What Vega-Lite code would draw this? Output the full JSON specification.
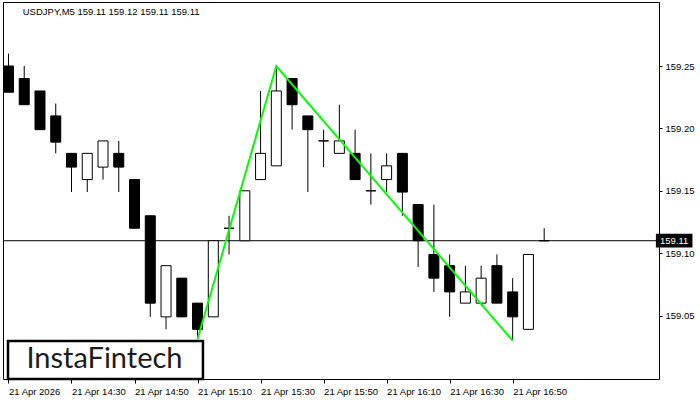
{
  "$schema": "https://vega.github.io/schema/vega-lite/v6.json",
  "width": 656,
  "height": 377,
  "autosize": {"type": "none"},
  "padding": {"left": 3, "top": 2, "right": 41, "bottom": 21},
  "background": "white",
  "config": {
    "view": {"stroke": "black", "strokeWidth": 1, "fill": "white"},
    "font": "Liberation Sans"
  },
  "datasets": {
    "candles": [
      {"t": "2026-04-21T14:10:00Z", "open": 159.250, "high": 159.260, "low": 159.229, "close": 159.229},
      {"t": "2026-04-21T14:15:00Z", "open": 159.240, "high": 159.250, "low": 159.219, "close": 159.219},
      {"t": "2026-04-21T14:20:00Z", "open": 159.230, "high": 159.230, "low": 159.199, "close": 159.199},
      {"t": "2026-04-21T14:25:00Z", "open": 159.210, "high": 159.220, "low": 159.180, "close": 159.189},
      {"t": "2026-04-21T14:30:00Z", "open": 159.180, "high": 159.180, "low": 159.149, "close": 159.169},
      {"t": "2026-04-21T14:35:00Z", "open": 159.159, "high": 159.180, "low": 159.149, "close": 159.180},
      {"t": "2026-04-21T14:40:00Z", "open": 159.169, "high": 159.190, "low": 159.159, "close": 159.190},
      {"t": "2026-04-21T14:45:00Z", "open": 159.180, "high": 159.190, "low": 159.149, "close": 159.169},
      {"t": "2026-04-21T14:50:00Z", "open": 159.159, "high": 159.159, "low": 159.120, "close": 159.120},
      {"t": "2026-04-21T14:55:00Z", "open": 159.130, "high": 159.130, "low": 159.049, "close": 159.060},
      {"t": "2026-04-21T15:00:00Z", "open": 159.049, "high": 159.090, "low": 159.039, "close": 159.090},
      {"t": "2026-04-21T15:05:00Z", "open": 159.080, "high": 159.080, "low": 159.049, "close": 159.049},
      {"t": "2026-04-21T15:10:00Z", "open": 159.060, "high": 159.060, "low": 159.032, "close": 159.039},
      {"t": "2026-04-21T15:15:00Z", "open": 159.049, "high": 159.110, "low": 159.049, "close": 159.110},
      {"t": "2026-04-21T15:20:00Z", "open": 159.120, "high": 159.130, "low": 159.099, "close": 159.120},
      {"t": "2026-04-21T15:25:00Z", "open": 159.110, "high": 159.150, "low": 159.110, "close": 159.150},
      {"t": "2026-04-21T15:30:00Z", "open": 159.159, "high": 159.230, "low": 159.159, "close": 159.180},
      {"t": "2026-04-21T15:35:00Z", "open": 159.170, "high": 159.250, "low": 159.170, "close": 159.230},
      {"t": "2026-04-21T15:40:00Z", "open": 159.240, "high": 159.240, "low": 159.199, "close": 159.219},
      {"t": "2026-04-21T15:45:00Z", "open": 159.210, "high": 159.210, "low": 159.149, "close": 159.199},
      {"t": "2026-04-21T15:50:00Z", "open": 159.190, "high": 159.199, "low": 159.169, "close": 159.190},
      {"t": "2026-04-21T15:55:00Z", "open": 159.180, "high": 159.219, "low": 159.180, "close": 159.190},
      {"t": "2026-04-21T16:00:00Z", "open": 159.180, "high": 159.199, "low": 159.159, "close": 159.159},
      {"t": "2026-04-21T16:05:00Z", "open": 159.150, "high": 159.180, "low": 159.139, "close": 159.150},
      {"t": "2026-04-21T16:10:00Z", "open": 159.159, "high": 159.180, "low": 159.149, "close": 159.170},
      {"t": "2026-04-21T16:15:00Z", "open": 159.180, "high": 159.180, "low": 159.130, "close": 159.149},
      {"t": "2026-04-21T16:20:00Z", "open": 159.139, "high": 159.139, "low": 159.089, "close": 159.110},
      {"t": "2026-04-21T16:25:00Z", "open": 159.099, "high": 159.139, "low": 159.069, "close": 159.080},
      {"t": "2026-04-21T16:30:00Z", "open": 159.090, "high": 159.099, "low": 159.049, "close": 159.069},
      {"t": "2026-04-21T16:35:00Z", "open": 159.060, "high": 159.090, "low": 159.060, "close": 159.069},
      {"t": "2026-04-21T16:40:00Z", "open": 159.060, "high": 159.090, "low": 159.060, "close": 159.080},
      {"t": "2026-04-21T16:45:00Z", "open": 159.090, "high": 159.099, "low": 159.060, "close": 159.060},
      {"t": "2026-04-21T16:50:00Z", "open": 159.069, "high": 159.080, "low": 159.030, "close": 159.049},
      {"t": "2026-04-21T16:55:00Z", "open": 159.039, "high": 159.099, "low": 159.039, "close": 159.099},
      {"t": "2026-04-21T17:00:00Z", "open": 159.110, "high": 159.120, "low": 159.110, "close": 159.110}
    ],
    "pattern": [
      {"t": "2026-04-21T15:10:00Z", "p": 159.031},
      {"t": "2026-04-21T15:35:00Z", "p": 159.250},
      {"t": "2026-04-21T16:50:00Z", "p": 159.030}
    ]
  },
  "layer": [
    {
      "data": {"values": [{}]},
      "mark": {"type": "rule", "color": "black", "strokeWidth": 1},
      "encoding": {"y": {"datum": 159.11, "type": "quantitative"}}
    },
    {
      "data": {"name": "candles"},
      "mark": {"type": "rule", "color": "black", "strokeWidth": 1, "clip": true},
      "encoding": {
        "x": {
          "field": "t",
          "type": "temporal",
          "scale": {
            "type": "utc",
            "domain": [
              {"year": 2026, "month": 4, "date": 21, "hours": 14, "minutes": 9, "seconds": 51, "utc": true},
              {"year": 2026, "month": 4, "date": 21, "hours": 17, "minutes": 34, "seconds": 51, "utc": true}
            ]
          },
          "axis": {
            "orient": "bottom",
            "title": null,
            "grid": false,
            "domain": false,
            "values": [
              {"year": 2026, "month": 4, "date": 21, "hours": 14, "minutes": 10, "utc": true},
              {"year": 2026, "month": 4, "date": 21, "hours": 14, "minutes": 30, "utc": true},
              {"year": 2026, "month": 4, "date": 21, "hours": 14, "minutes": 50, "utc": true},
              {"year": 2026, "month": 4, "date": 21, "hours": 15, "minutes": 10, "utc": true},
              {"year": 2026, "month": 4, "date": 21, "hours": 15, "minutes": 30, "utc": true},
              {"year": 2026, "month": 4, "date": 21, "hours": 15, "minutes": 50, "utc": true},
              {"year": 2026, "month": 4, "date": 21, "hours": 16, "minutes": 10, "utc": true},
              {"year": 2026, "month": 4, "date": 21, "hours": 16, "minutes": 30, "utc": true},
              {"year": 2026, "month": 4, "date": 21, "hours": 16, "minutes": 50, "utc": true}
            ],
            "labelExpr": "utchours(datum.value) == 14 && utcminutes(datum.value) == 10 ? '21 Apr 2026' : utcFormat(datum.value, '%d %b %H:%M')",
            "labelAlign": "left",
            "labelBaseline": "top",
            "labelPadding": 3,
            "labelFont": "Liberation Sans",
            "labelFontSize": 9.5,
            "labelColor": "black",
            "labelFlush": false,
            "labelOverlap": false,
            "tickSize": 4,
            "tickColor": "black",
            "tickWidth": 1
          }
        },
        "y": {
          "field": "low",
          "type": "quantitative",
          "scale": {"domain": [158.9992, 159.3013], "nice": false, "zero": false},
          "axis": {
            "orient": "right",
            "title": null,
            "grid": false,
            "domain": false,
            "values": [159.05, 159.10, 159.15, 159.20, 159.25],
            "format": ".2f",
            "labelPadding": 3,
            "labelFont": "Liberation Sans",
            "labelFontSize": 9.5,
            "labelColor": "black",
            "labelFlush": false,
            "labelOverlap": false,
            "tickSize": 3,
            "tickColor": "black",
            "tickWidth": 1
          }
        },
        "y2": {"field": "high"}
      }
    },
    {
      "data": {"name": "candles"},
      "mark": {"type": "bar", "size": 10, "stroke": "black", "strokeWidth": 1, "clip": true},
      "encoding": {
        "x": {"field": "t", "type": "temporal"},
        "y": {"field": "open", "type": "quantitative"},
        "y2": {"field": "close"},
        "fill": {
          "condition": {"test": "datum.close < datum.open", "value": "black"},
          "value": "white"
        }
      }
    },
    {
      "data": {"name": "pattern"},
      "mark": {"type": "line", "color": "#00ff00", "strokeWidth": 2},
      "encoding": {
        "x": {"field": "t", "type": "temporal"},
        "y": {"field": "p", "type": "quantitative"}
      }
    },
    {
      "data": {"values": [{}]},
      "mark": {"type": "text", "text": "USDJPY,M5  159.11 159.12 159.11 159.11", "font": "Liberation Sans", "fontSize": 9.5, "color": "black", "align": "left", "baseline": "alphabetic"},
      "encoding": {
        "x": {"datum": {"year": 2026, "month": 4, "date": 21, "hours": 14, "minutes": 14, "seconds": 32, "utc": true}, "type": "temporal"},
        "y": {"datum": 159.2909, "type": "quantitative"}
      }
    },
    {
      "data": {"values": [{}]},
      "mark": {"type": "rect", "fill": "white", "stroke": "black", "strokeWidth": 2.5},
      "encoding": {
        "x": {"datum": {"year": 2026, "month": 4, "date": 21, "hours": 14, "minutes": 9, "seconds": 51, "utc": true}, "type": "temporal"},
        "x2": {"datum": {"year": 2026, "month": 4, "date": 21, "hours": 15, "minutes": 11, "seconds": 43, "utc": true}},
        "y": {"datum": 158.9992, "type": "quantitative"},
        "y2": {"datum": 159.0296}
      }
    },
    {
      "data": {"values": [{}]},
      "mark": {"type": "text", "text": "InstaFintech", "font": "Lato", "fontSize": 29, "fontWeight": "normal", "color": "#1c1c1c", "align": "center", "baseline": "alphabetic"},
      "encoding": {
        "x": {"datum": {"year": 2026, "month": 4, "date": 21, "hours": 14, "minutes": 40, "seconds": 27, "utc": true}, "type": "temporal"},
        "y": {"datum": 159.008, "type": "quantitative"}
      }
    },
    {
      "data": {"values": [{}]},
      "mark": {"type": "rect", "fill": "black", "clip": false},
      "encoding": {
        "x": {"datum": {"year": 2026, "month": 4, "date": 21, "hours": 17, "minutes": 35, "seconds": 27, "utc": true}, "type": "temporal"},
        "x2": {"datum": {"year": 2026, "month": 4, "date": 21, "hours": 17, "minutes": 47, "seconds": 3, "utc": true}},
        "y": {"datum": 159.1155, "type": "quantitative"},
        "y2": {"datum": 159.1045}
      }
    },
    {
      "data": {"values": [{}]},
      "mark": {"type": "text", "text": "159.11", "font": "Liberation Sans", "fontSize": 9.5, "color": "white", "align": "left", "baseline": "middle", "clip": false},
      "encoding": {
        "x": {"datum": {"year": 2026, "month": 4, "date": 21, "hours": 17, "minutes": 36, "seconds": 45, "utc": true}, "type": "temporal"},
        "y": {"datum": 159.11, "type": "quantitative"}
      }
    }
  ]
}
